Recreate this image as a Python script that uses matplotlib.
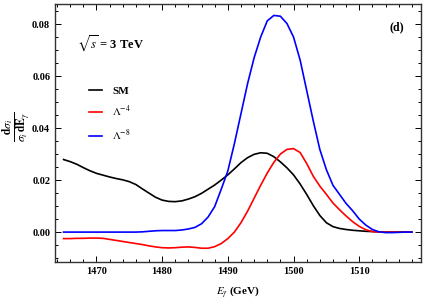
import matplotlib
matplotlib.use("Agg")
import matplotlib.pyplot as plt
from matplotlib.ticker import MultipleLocator, FixedLocator
from matplotlib.lines import Line2D

plt.rcParams['font.family'] = ['Liberation Serif', 'DejaVu Serif']
plt.rcParams['mathtext.fontset'] = 'stix'

energy = list(range(1465, 1519))

sm = [0.0279, 0.0271, 0.0261, 0.0248, 0.0236, 0.0226, 0.0219, 0.0212, 0.0206, 0.0201,
      0.0194, 0.0183, 0.0166, 0.0150, 0.0134, 0.0123, 0.0118, 0.0117, 0.0120, 0.0127,
      0.0136, 0.0149, 0.0165, 0.0181, 0.0200, 0.0220, 0.0243, 0.0267, 0.0286, 0.0299,
      0.0305, 0.0303, 0.0290, 0.0270, 0.0247, 0.0220, 0.0185, 0.0145, 0.0102, 0.0064,
      0.0036, 0.0021, 0.0014, 0.0010, 0.0007, 0.0005, 0.0003, 0.0002, 0.0001, 0.0,
      0.0, 0.0, 0.0, 0.0]

lam4 = [-0.0025, -0.0025, -0.0024, -0.0024, -0.0023, -0.0023, -0.0024, -0.0028, -0.0032, -0.0036,
        -0.0040, -0.0044, -0.0048, -0.0053, -0.0057, -0.0060, -0.0061, -0.0060, -0.0058, -0.0057,
        -0.0059, -0.0062, -0.0062, -0.0056, -0.0044, -0.0025, 0.0000, 0.0036, 0.0080, 0.0130,
        0.0180, 0.0227, 0.0268, 0.0300, 0.0318, 0.0321, 0.0306, 0.0264, 0.0215, 0.0177,
        0.0145, 0.0112, 0.0086, 0.0062, 0.0040, 0.0022, 0.0009, 0.0002, 0.0, 0.0,
        0.0, 0.0, 0.0, 0.0]

lam8 = [0.0, 0.0, 0.0, 0.0, 0.0, 0.0, 0.0, 0.0, 0.0, 0.0,
        0.0, 0.0, 0.0001, 0.0003, 0.0005, 0.0006, 0.0006, 0.0006, 0.0008, 0.0012,
        0.0018, 0.0032, 0.0058, 0.0098, 0.0165, 0.0235, 0.0340, 0.0455, 0.0570, 0.0670,
        0.0750, 0.0812, 0.0833, 0.0830, 0.0802, 0.0750, 0.0662, 0.0545, 0.0428, 0.0318,
        0.0240, 0.0180, 0.0145, 0.0110, 0.0082, 0.0050, 0.0027, 0.0010, 0.0001, -0.0002,
        -0.0002, -0.0001, 0.0, 0.0]

labels = ['SM', r'$\Lambda^{-4}$', r'$\Lambda^{-8}$']
colors = ['black', '#ff0000', '#0000ff']
xticks = [1470, 1480, 1490, 1500, 1510]
yticks = [0.00, 0.02, 0.04, 0.06, 0.08]

fig = plt.figure(figsize=(4.25, 3.0), dpi=100)
ax = fig.add_axes([55/425, 1-262/300, (421-55)/425, (262-4)/300])

for y, c in zip([sm, lam4, lam8], colors):
    ax.plot(energy, y, color=c, lw=1.2)

ax.set_xlim(1463.7, 1519.4)
ax.set_ylim(-0.0115, 0.0877)
ax.xaxis.set_major_locator(FixedLocator(xticks))
ax.yaxis.set_major_locator(FixedLocator(yticks))
ax.xaxis.set_minor_locator(MultipleLocator(2))
ax.yaxis.set_minor_locator(MultipleLocator(0.005))
ax.set_xticklabels([str(t) for t in xticks], fontweight='bold', fontsize=7.5)
ax.set_yticklabels(['%.2f' % t for t in yticks], fontweight='bold', fontsize=7.5)
ax.tick_params(which='both', direction='in', top=True, right=True, width=0.7)
ax.tick_params(which='major', length=4)
ax.tick_params(which='minor', length=2)
for s in ax.spines.values():
    s.set_linewidth(1.0)
    s.set_color('#333333')

ax.set_xlabel(r'$E_\gamma$ (GeV)', fontsize=8, fontweight='bold', labelpad=6)
fig.text(17/425, 1-127/300, r'$\frac{\mathbf{d}\sigma_i}{\sigma_i\,\mathbf{dE}_\gamma}$',
         rotation=90, ha='center', va='center', fontsize=12)

ax.text(0.06, 0.845, r'$\sqrt{s}$ = 3 TeV', transform=ax.transAxes, fontsize=9,
        fontweight='bold', ha='left', va='center')
ax.text(0.955, 0.91, '(d)', transform=ax.transAxes, fontsize=8.5, fontweight='bold',
        ha='right', va='center')

handles = [Line2D([], [], color=c, lw=1.2) for c in colors]
leg = ax.legend(handles, labels, loc='upper left', bbox_to_anchor=(0.065, 0.72),
                frameon=False, handlelength=1.2, handletextpad=0.9, labelspacing=0.75,
                prop={'weight': 'bold', 'size': 8})

fig.savefig('out.png', dpi=100)
